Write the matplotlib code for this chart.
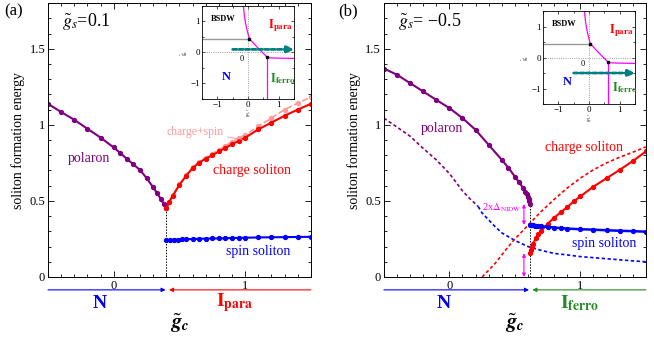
import numpy as np
import matplotlib.pyplot as plt
from matplotlib.ticker import MultipleLocator

plt.rcParams['font.family'] = ['Liberation Serif', 'DejaVu Serif']
plt.rcParams['mathtext.fontset'] = 'stix'

# ---- panel (a) data, g_s = 0.1 ----
gc_a = 0.40
pol_a_x = [-0.5, -0.4, -0.3, -0.2, -0.1, 0.0, 0.05, 0.1, 0.15, 0.2, 0.25, 0.3, 0.33, 0.36, 0.38, 0.40]
pol_a_y = [1.138, 1.084, 1.033, 0.974, 0.916, 0.851, 0.814, 0.776, 0.74, 0.703, 0.65, 0.589, 0.55, 0.51, 0.48, 0.451]
chg_a_x = [0.40, 0.42, 0.45, 0.50, 0.55, 0.60, 0.65, 0.70, 0.75, 0.80, 0.85, 0.90, 0.95, 1.0, 1.1, 1.2, 1.3, 1.4, 1.5]
chg_a_y = [0.451, 0.49, 0.535, 0.605, 0.665, 0.715, 0.752, 0.778, 0.80, 0.825, 0.848, 0.872, 0.894, 0.916, 0.97, 1.015, 1.06, 1.10, 1.138]
cs_a_y = [0.455, 0.494, 0.54, 0.61, 0.67, 0.72, 0.758, 0.785, 0.81, 0.837, 0.862, 0.888, 0.912, 0.935, 0.99, 1.045, 1.10, 1.143, 1.182]
spin_a_x = [0.40, 0.43, 0.46, 0.49, 0.52, 0.55, 0.6, 0.65, 0.7, 0.75, 0.8, 0.85, 0.9, 0.95, 1.0, 1.1, 1.2, 1.3, 1.4, 1.5]
spin_a_y = [0.242, 0.244, 0.245, 0.246, 0.247, 0.248, 0.25, 0.251, 0.252, 0.253, 0.254, 0.255, 0.256, 0.257, 0.258, 0.26, 0.261, 0.262, 0.263, 0.264]

# ---- panel (b) data, g_s = -0.5 ----
gc_b = 0.613
pol_b_x = [-0.5, -0.4, -0.3, -0.2, -0.1, 0.0, 0.1, 0.2, 0.3, 0.4, 0.45, 0.5, 0.53, 0.56, 0.58, 0.59, 0.60, 0.605, 0.61, 0.613]
pol_b_y = [1.37, 1.329, 1.274, 1.219, 1.164, 1.11, 1.044, 0.967, 0.868, 0.77, 0.718, 0.66, 0.625, 0.588, 0.56, 0.545, 0.528, 0.515, 0.5, 0.48]
pold_b_x = [-0.5, -0.4, -0.3, -0.2, -0.1, 0.0, 0.1, 0.15, 0.2, 0.22]
pold_b_y = [1.044, 0.985, 0.925, 0.845, 0.77, 0.68, 0.566, 0.52, 0.48, 0.463]
spind_b_x = [0.22, 0.25, 0.3, 0.35, 0.4, 0.5, 0.6, 0.7, 0.8, 0.9, 1.0, 1.1, 1.2, 1.3, 1.4, 1.5]
spind_b_y = [0.463, 0.42, 0.375, 0.33, 0.29, 0.24, 0.2, 0.175, 0.155, 0.145, 0.134, 0.127, 0.12, 0.113, 0.106, 0.10]
chgd_b_x = [0.25, 0.3, 0.35, 0.4, 0.45, 0.5, 0.55, 0.6, 0.7, 0.8, 0.9, 1.0, 1.1, 1.2, 1.3, 1.4, 1.5]
chgd_b_y = [0.0, 0.045, 0.09, 0.145, 0.20, 0.25, 0.295, 0.34, 0.43, 0.51, 0.585, 0.65, 0.705, 0.75, 0.787, 0.82, 0.855]
chg_b_x = [0.613, 0.62, 0.63, 0.64, 0.66, 0.68, 0.7, 0.75, 0.8, 0.85, 0.9, 0.95, 1.0, 1.1, 1.2, 1.3, 1.4, 1.5]
chg_b_y = [0.156, 0.175, 0.2, 0.22, 0.255, 0.28, 0.30, 0.35, 0.39, 0.425, 0.46, 0.497, 0.53, 0.594, 0.649, 0.704, 0.762, 0.825]
spin_b_x = [0.613, 0.62, 0.63, 0.64, 0.65, 0.66, 0.68, 0.7, 0.75, 0.8, 0.85, 0.9, 1.0, 1.1, 1.2, 1.3, 1.4, 1.5]
spin_b_y = [0.342, 0.341, 0.34, 0.339, 0.338, 0.337, 0.335, 0.333, 0.329, 0.325, 0.321, 0.318, 0.314, 0.311, 0.307, 0.304, 0.301, 0.298]

# ---- inset phase diagram ----
bnd1_x = [-0.15, -0.12, -0.09, -0.05, 0.0, 0.04]
bnd1_y = [1.5, 1.2, 1.0, 0.8, 0.6, 0.45]
bnd2_x = [0.04, 0.3, 0.62]
bnd2_y = [0.45, 0.17, -0.15]
bnd3_x = [0.62, 0.7, 0.9, 1.2, 1.5]
bnd3_y = [-0.15, -0.17, -0.18, -0.185, -0.19]
bsdw_y = 0.45
ferro_x = 0.62

PURPLE = '#800080'
PINK = '#ff9a9a'
MAG = '#ff00ff'
GREEN = '#228b22'
TEAL = '#008080'
MINUS = '\u2212'

fig = plt.figure(figsize=(6.54, 3.39), dpi=100)
ax_a = fig.add_axes([0.0734, 0.1829, 0.402, 0.808])
ax_b = fig.add_axes([0.587, 0.1829, 0.4006, 0.808])


def style_main(ax):
    ax.set_xlim(-0.5, 1.5)
    ax.set_ylim(0, 1.8)
    ax.xaxis.set_major_locator(MultipleLocator(1))
    ax.xaxis.set_minor_locator(MultipleLocator(0.1))
    ax.yaxis.set_major_locator(MultipleLocator(0.5))
    ax.yaxis.set_minor_locator(MultipleLocator(0.1))
    ax.yaxis.set_major_formatter(plt.FuncFormatter(lambda v, p: '%g' % v))
    ax.tick_params(which='both', direction='in', top=True, right=True, labelsize=9, width=0.6, pad=2)
    ax.tick_params(which='major', length=4)
    ax.tick_params(which='minor', length=2)
    for s in ax.spines.values():
        s.set_linewidth(0.7)
    ax.set_ylabel('soliton formation energy', fontsize=10, labelpad=3)


def phase_bar(ax, gc, lcol, rcol, llab, rlab, lx, rx):
    tr = ax.get_xaxis_transform()
    ax.annotate('', xy=(gc - 0.005, -0.047), xytext=(-0.5, -0.047), xycoords=tr,
                arrowprops=dict(arrowstyle='-|>', color=lcol, lw=0.8, mutation_scale=6,
                                shrinkA=0, shrinkB=0), annotation_clip=False)
    ax.annotate('', xy=(gc + 0.02, -0.047), xytext=(1.5, -0.047), xycoords=tr,
                arrowprops=dict(arrowstyle='-|>', color=rcol, lw=0.8, mutation_scale=6,
                                shrinkA=0, shrinkB=0), annotation_clip=False)
    ax.text(lx, -0.095, llab, transform=tr, color=lcol, fontsize=14, fontweight='bold',
            ha='center', va='center')
    ax.text(rx, -0.095, rlab, transform=tr, color=rcol, fontsize=14,
            ha='center', va='center')
    ax.text(0.5, -0.17, r'$\tilde{\mathbfit{g}}_{\mathbfit{c}}$', transform=tr, fontsize=15,
            ha='center', va='center')


def inset(rect, arrow_y, ferro_pos):
    ins = fig.add_axes(rect)
    ins.set_xlim(-1.5, 1.5)
    ins.set_ylim(-1.5, 1.5)
    ins.axvline(0, color='gray', ls=':', lw=0.6)
    ins.axhline(0, color='gray', ls=':', lw=0.6)
    ins.plot([-1.5, bnd1_x[-1]], [bsdw_y, bsdw_y], color='#999999', lw=1)
    ins.plot(bnd1_x, bnd1_y, color=MAG, lw=0.9)
    ins.plot(bnd2_x, bnd2_y, color=MAG, lw=0.9)
    ins.plot(bnd3_x, bnd3_y, color=MAG, lw=0.9)
    ins.plot([ferro_x, ferro_x], [bnd3_y[0], -1.5], color=MAG, lw=0.9)
    ins.plot([bnd2_x[0], bnd2_x[-1]], [bnd2_y[0], bnd2_y[-1]], 'ks', ms=2, ls='none')
    ins.annotate('', xy=(1.5, arrow_y), xytext=(-0.5, arrow_y),
                 arrowprops=dict(arrowstyle='-|>', color=TEAL, lw=2, ls=(0, (1.5, 0.8)),
                                 mutation_scale=10, shrinkA=0, shrinkB=0))
    ins.text(-1.22, 1.07, 'BSDW', fontsize=6, fontweight='bold', va='center')
    ins.text(0.65, 0.88, r'$\mathbf{I}_{\mathbf{para}}$', color='red', fontsize=9, va='center')
    ins.text(-0.72, -0.8, 'N', color='blue', fontsize=9, fontweight='bold', ha='center', va='center')
    ins.text(ferro_pos[0], ferro_pos[1], r'$\mathbf{I}_{\mathbf{ferro}}$', color=GREEN, fontsize=9, va='center')
    ins.text(-0.12, -0.22, '0', fontsize=6, ha='right', va='center')
    ins.set_xticks([-1, 0, 1])
    ins.set_yticks([-1, 0, 1])
    ins.set_xticklabels([MINUS + '1', '0', '1'])
    ins.set_yticklabels([MINUS + '1', '0', '1'])
    ins.xaxis.set_minor_locator(MultipleLocator(0.5))
    ins.yaxis.set_minor_locator(MultipleLocator(0.5))
    ins.tick_params(which='both', direction='in', top=True, right=True, labelsize=6.5, pad=1.5, width=0.5)
    ins.tick_params(which='major', length=2.5)
    ins.tick_params(which='minor', length=1.5)
    ins.set_xlabel(r'$\tilde{g}_c$', fontsize=4, labelpad=0.5)
    ins.set_ylabel(r'$\tilde{g}_s$', fontsize=4, labelpad=0.5, rotation=90)
    for s in ins.spines.values():
        s.set_linewidth(0.6)
    return ins


# ---------------- panel (a) ----------------
style_main(ax_a)
ax_a.plot([gc_a, gc_a], [0, pol_a_y[-1]], color='k', ls=(0, (1.5, 1.5)), lw=0.7)
ax_a.plot(chg_a_x, cs_a_y, color=PINK, ls='--', lw=1.2, marker='o', ms=2.8)
ax_a.plot(pol_a_x, pol_a_y, color=PURPLE, lw=1.5, marker='o', ms=2.8)
ax_a.plot(chg_a_x, chg_a_y, color='red', lw=1.5, marker='o', ms=2.8)
ax_a.plot(spin_a_x, spin_a_y, color='blue', lw=1.5, marker='o', ms=2.8)
ax_a.text(-0.19, 0.78, 'polaron', color=PURPLE, fontsize=10, ha='center', va='center')
ax_a.text(1.05, 0.70, 'charge soliton', color='red', fontsize=10, ha='center', va='center')
ax_a.text(1.10, 0.17, 'spin soliton', color='blue', fontsize=10, ha='center', va='center')
ax_a.annotate('charge+spin', xy=(0.975, 0.905), xytext=(0.62, 0.952), color=PINK, fontsize=8.5,
              ha='center', va='center',
              arrowprops=dict(arrowstyle='-', color=PINK, lw=0.7, shrinkA=1, shrinkB=0))
ax_a.text(0.053, 0.934, r'$\tilde{g}_s$=0.1', transform=ax_a.transAxes, fontsize=13, va='center')
phase_bar(ax_a, gc_a, 'blue', 'red', 'N', r'$\mathbf{I}_{\mathbf{para}}$', -0.107, 0.92)
inset([0.3089, 0.708, 0.1407, 0.2743], 0.1, (0.72, -0.83))

# ---------------- panel (b) ----------------
style_main(ax_b)
ax_b.plot([gc_b, gc_b], [0, pol_b_y[-1]], color='k', ls=(0, (1.5, 1.5)), lw=0.7)
ax_b.plot(pold_b_x, pold_b_y, color=PURPLE, ls=(0, (2, 1.5)), lw=1.2)
ax_b.plot(spind_b_x, spind_b_y, color='blue', ls=(0, (2, 1.5)), lw=1.2)
ax_b.plot(chgd_b_x, chgd_b_y, color='red', ls=(0, (2, 1.5)), lw=1.2)
ax_b.plot(pol_b_x, pol_b_y, color=PURPLE, lw=1.5, marker='o', ms=2.8)
ax_b.plot(chg_b_x, chg_b_y, color='red', lw=1.5, marker='o', ms=2.8)
ax_b.plot(spin_b_x, spin_b_y, color='blue', lw=1.8, marker='o', ms=2.8)
ax_b.annotate('', xy=(0.569, pol_b_y[-1]), xytext=(0.569, spin_b_y[0]),
              arrowprops=dict(arrowstyle='<|-|>', color=MAG, lw=0.8, mutation_scale=5, shrinkA=0, shrinkB=0))
ax_b.annotate('', xy=(0.569, chg_b_y[0]), xytext=(0.569, 0.0),
              arrowprops=dict(arrowstyle='<|-|>', color=MAG, lw=0.8, mutation_scale=5, shrinkA=0, shrinkB=0))
ax_b.text(0.40, 0.452, r'2x$\Delta_{\rm NIDW}$', color=MAG, fontsize=7.5, ha='center', va='center')
ax_b.text(-0.06, 0.978, 'polaron', color=PURPLE, fontsize=10, ha='center', va='center')
ax_b.text(1.03, 0.851, 'charge soliton', color='red', fontsize=10, ha='center', va='center')
ax_b.text(1.18, 0.217, 'spin soliton', color='blue', fontsize=10, ha='center', va='center')
ax_b.text(0.053, 0.934, r'$\tilde{g}_s$= ' + MINUS + '0.5', transform=ax_b.transAxes, fontsize=13, va='center')
phase_bar(ax_b, gc_b, 'blue', GREEN, 'N', r'$\mathbf{I}_{\mathbf{ferro}}$', -0.046, 0.99)
inset([0.8303, 0.6932, 0.1407, 0.2743], -0.5, (0.74, -0.98))

fig.text(0.007, 0.965, '(a)', fontsize=12, va='center')
fig.text(0.517, 0.965, '(b)', fontsize=12, va='center')

fig.savefig('out.png', dpi=100)
